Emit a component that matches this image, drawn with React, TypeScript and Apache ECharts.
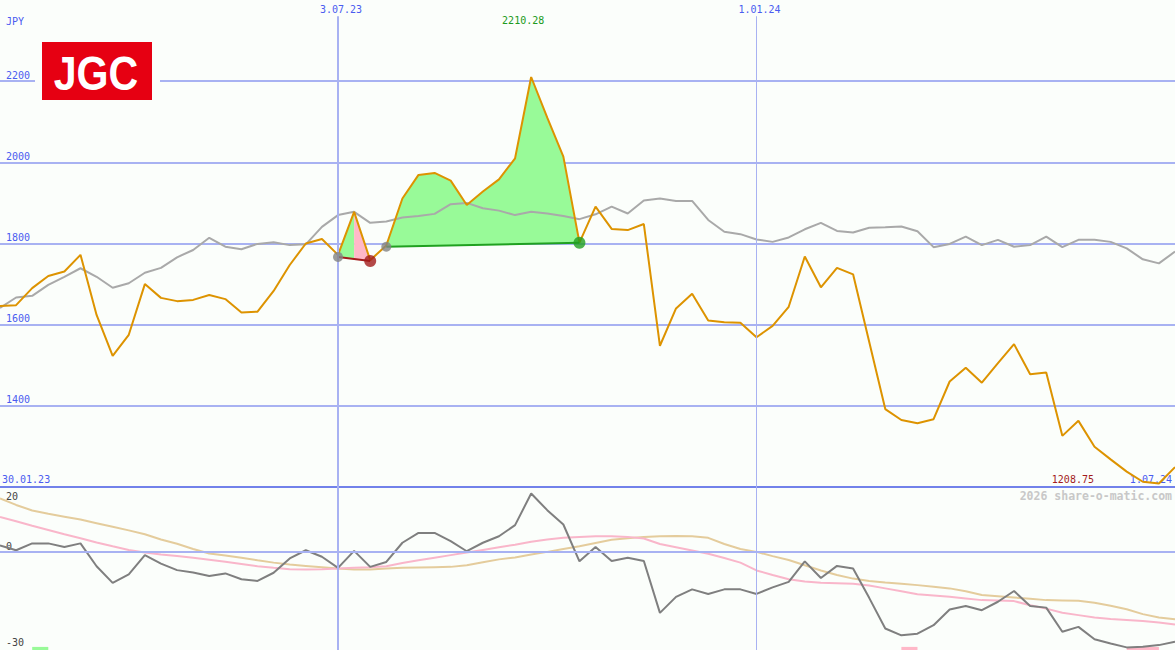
import React, { useEffect, useRef } from "react";
import * as echarts from "echarts";

// ---- data (weekly, index 0 = first week shown) ----
const price = [
  1646, 1648, 1690, 1720, 1731, 1772, 1624, 1523, 1575, 1700,
  1666, 1658, 1661, 1673, 1663, 1630, 1632, 1683, 1747, 1800,
  1811, 1772, 1878, 1759, 1795, 1911, 1969, 1974, 1955, 1895,
  1928, 1958, 2010, 2210.28, 2110, 2014, 1802, 1891, 1836, 1833,
  1848, 1548, 1640, 1676, 1610, 1606, 1605, 1569, 1597, 1644,
  1768, 1692, 1740, 1724, 1558, 1392, 1365, 1357, 1367, 1460,
  1494, 1457, 1505, 1552, 1478, 1482, 1326, 1363, 1299, 1268,
  1238, 1213, 1208.75, 1249,
];
const average = [
  1641, 1667, 1671, 1698, 1718, 1739, 1718, 1691, 1702, 1728,
  1740, 1766, 1784, 1814, 1792, 1786, 1799, 1803, 1796, 1798,
  1841, 1870, 1878, 1851, 1854, 1864, 1868, 1873, 1897, 1900,
  1887, 1881, 1870, 1878, 1874, 1868, 1860, 1872, 1891, 1874,
  1906, 1911, 1905, 1905, 1858, 1829, 1823, 1810, 1804, 1815,
  1835, 1851, 1831, 1827, 1839, 1840, 1842, 1830, 1791, 1799,
  1817, 1796, 1809, 1792, 1796, 1817, 1791, 1809, 1809, 1804,
  1788, 1761, 1751, 1780,
];
const momentum = [
  2.1, 0.6, 2.7, 2.7, 1.6, 2.7, -4.3, -9.4, -6.8, -0.9,
  -3.5, -5.5, -6.2, -7.3, -6.5, -8.3, -8.8, -6.3, -1.9, 0.6,
  -1.4, -4.8, 0.4, -4.5, -3.0, 2.9, 5.9, 5.9, 3.4, 0.3,
  2.9, 4.9, 8.3, 18.0, 12.9, 8.5, -2.8, 1.6, -2.7, -1.7,
  -2.7, -18.6, -13.7, -11.4, -12.8, -11.4, -11.4, -12.8, -10.8, -9.1,
  -2.8, -7.9, -4.2, -5.0, -14.0, -23.4, -25.5, -25.0, -22.4, -17.6,
  -16.5, -17.8, -15.2, -11.9, -16.5, -17.0, -24.4, -22.9, -26.7, -28.0,
  -29.2, -29.0, -28.5, -27.5,
];
const signalPink = [
  10.8, 9.5, 8.1, 6.8, 5.5, 4.3, 3.0, 1.8, 0.7, -0.1,
  -0.7, -1.2, -1.7, -2.3, -2.9, -3.6, -4.3, -4.8, -5.2, -5.3,
  -5.2, -5.0, -4.8, -4.6, -4.3, -3.3, -2.5, -1.7, -0.9, -0.1,
  0.7, 1.5, 2.3, 3.2, 3.9, 4.4, 4.7, 4.9, 4.9, 4.7,
  4.2, 2.5, 1.5, 0.5, -0.5, -1.8, -3.2, -5.6, -7.0, -8.3,
  -9.0, -9.4, -9.5, -9.7, -10.2, -11.1, -12.0, -12.9, -13.3, -13.7,
  -14.2, -14.7, -14.8, -15.0, -16.3, -17.3, -18.6, -19.3, -20.0, -20.5,
  -20.8, -21.1, -21.6, -22.2,
];
const signalTan = [
  16.5, 14.5, 12.8, 11.8, 10.9, 10.0, 8.9, 7.8, 6.7, 5.5,
  3.9, 2.6, 1.0, -0.4, -1.0, -1.7, -2.5, -3.2, -3.8, -4.2,
  -4.6, -5.0, -5.3, -5.3, -5.0, -4.8, -4.7, -4.6, -4.5, -4.0,
  -3.1, -2.2, -1.6, -0.7, 0.1, 1.0, 1.8, 2.8, 3.8, 4.3,
  4.7, 4.9, 5.0, 4.9, 4.4, 2.5, 1.0, 0.1, -1.2, -2.4,
  -4.0, -5.6, -7.0, -8.1, -8.8, -9.3, -9.7, -10.1, -10.6, -11.1,
  -12.0, -13.1, -13.5, -13.9, -14.3, -14.7, -14.8, -14.9, -15.5, -16.4,
  -17.5, -19.0, -20.0, -20.6,
];

const dateMarks = [
  { index: 21, label: "3.07.23", width: 2 },
  { index: 47, label: "1.01.24", width: 1 },
];
const startLabel = "30.01.23";
const endLabel = "1.07.24";
const currency = "JPY";

const trades = [
  { entry: 21, entryPrice: 1767, exit: 23, exitPrice: 1757, color: "#a31c1c" },
  { entry: 24, entryPrice: 1792, exit: 36, exitPrice: 1802, color: "#20a020" },
];
const fillSegments = [
  { from: 21, to: 22, color: "#98fa98" },
  { from: 22, to: 23, color: "#ffb8c8" },
  { from: 24, to: 36, color: "#98fa98" },
];
const bottomMarks = [
  { from: 2, to: 3, color: "#98fa98" },
  { from: 56, to: 57, color: "#ffb8c8" },
  { from: 70, to: 72, color: "#ffb8c8" },
];

const MAIN_MIN = 1200;
const MAIN_MAX = 2400;
const MAIN_STEP = 200;
const LOW_MIN = -30;
const LOW_MAX = 20;
const LAST = price.length - 1;

const BG = "#fbfefb";
const GRID = "#a8b2f2";
const AXIS = "#7282ea";
const BLUE_TXT = "#4a5cf0";
const MONO = '"DejaVu Sans Mono", monospace';

export default function App() {
  const ref = useRef<HTMLDivElement>(null);
  useEffect(() => {
    if (!ref.current) return;
    const chart = echarts.init(ref.current, undefined, { renderer: "svg" });
    const idx = (arr: number[]) => arr.map((v, i) => [i, v]);
    const maxIdx = price.indexOf(Math.max(...price));
    const minIdx = price.indexOf(Math.min(...price));

    const option: any = {
      animation: false,
      backgroundColor: BG,
      grid: [
        { left: 0, right: 0, top: 0, height: 487 },
        { left: 0, right: 0, top: 487, bottom: 0 },
      ],
      xAxis: [
        {
          type: "value", gridIndex: 0, min: 0, max: LAST,
          axisLine: { show: true, onZero: false, lineStyle: { color: AXIS, width: 2 } },
          axisTick: { show: false }, axisLabel: { show: false }, splitLine: { show: false },
        },
        {
          type: "value", gridIndex: 1, min: 0, max: LAST, show: false,
        },
      ],
      yAxis: [
        {
          type: "value", gridIndex: 0, min: MAIN_MIN, max: MAIN_MAX, interval: MAIN_STEP,
          axisLine: { show: false }, axisTick: { show: false },
          splitLine: { show: true, showMinLine: false, showMaxLine: false, lineStyle: { color: GRID, width: 2 } },
          axisLabel: {
            inside: true, margin: 6, verticalAlign: "bottom", padding: [0, 0, 1, 0],
            color: BLUE_TXT, fontFamily: MONO, fontSize: 10,
            showMinLabel: false, showMaxLabel: false,
            formatter: (v: number) => String(v),
          },
        },
        { type: "value", gridIndex: 1, min: LOW_MIN, max: LOW_MAX, show: false },
      ],
      series: [
        {
          type: "line", name: "avg", xAxisIndex: 0, yAxisIndex: 0,
          data: idx(average), symbol: "none",
          lineStyle: { color: "#a9a9a9", width: 2 },
          markLine: {
            silent: true, symbol: "none",
            data: dateMarks.map((d) => [
              {
                coord: [d.index, 2360],
                lineStyle: { color: GRID, width: d.width, type: "solid" },
                label: { show: true, position: "start", formatter: d.label, color: BLUE_TXT, fontFamily: MONO, fontSize: 10, distance: 2, padding: [0, 0, 0, 6] },
              },
              { coord: [d.index, MAIN_MIN] },
            ]),
          },
          z: 2,
        },
        {
          type: "custom", xAxisIndex: 0, yAxisIndex: 0, data: [[trades[0].entry, trades[0].entryPrice]],
          renderItem: (_p: any, api: any) => {
            const children = fillSegments.map((seg) => {
              const t = trades.find((tr) => seg.from >= tr.entry && seg.to <= tr.exit)!;
              const base = (i: number) => t.entryPrice + ((t.exitPrice - t.entryPrice) * (i - t.entry)) / (t.exit - t.entry);
              const pts: number[][] = [];
              for (let i = seg.from; i <= seg.to; i++) pts.push(api.coord([i, price[i]]));
              for (let i = seg.to; i >= seg.from; i--) pts.push(api.coord([i, base(i)]));
              return { type: "polygon", shape: { points: pts }, style: { fill: seg.color } };
            });
            return { type: "group", children };
          },
          z: 1,
        },
        {
          type: "line", name: "price", xAxisIndex: 0, yAxisIndex: 0,
          data: idx(price), symbol: "none",
          lineStyle: { color: "#dd9300", width: 2 },
          markPoint: {
            symbol: "circle", symbolSize: 0,
            data: [
              {
                coord: [maxIdx, 2349],
                label: { show: true, formatter: price[maxIdx].toFixed(2), color: "#209a20", fontFamily: MONO, fontSize: 10, position: "inside", offset: [-8, 0] },
              },
              {
                coord: [minIdx, 1219.5],
                label: { show: true, formatter: price[minIdx].toFixed(2), color: "#a31c1c", fontFamily: MONO, fontSize: 10, position: "inside", offset: [-86, 0] },
              },
            ],
          },
          z: 3,
        },
        ...trades.map((t) => ({
          type: "line", xAxisIndex: 0, yAxisIndex: 0, symbol: "none",
          data: [[t.entry, t.entryPrice], [t.exit, t.exitPrice]],
          lineStyle: { color: t.color, width: 2 }, z: 4,
        })),
        {
          type: "scatter", xAxisIndex: 0, yAxisIndex: 0, symbolSize: 10,
          data: trades.map((t) => [t.entry, t.entryPrice]),
          itemStyle: { color: "#838383" }, z: 5,
        },
        ...trades.map((t) => ({
          type: "scatter", xAxisIndex: 0, yAxisIndex: 0, symbolSize: 12,
          data: [[t.exit, t.exitPrice]],
          itemStyle: { color: t.color }, z: 5,
        })),
        {
          type: "line", name: "tan", xAxisIndex: 1, yAxisIndex: 1,
          data: idx(signalTan), symbol: "none",
          lineStyle: { color: "#e4cc9c", width: 2 },
          markLine: {
            silent: true, symbol: "none", label: { show: false },
            data: [
              { yAxis: 0, lineStyle: { color: GRID, width: 2, type: "solid" } },
              ...dateMarks.map((d) => [
                { coord: [d.index, LOW_MAX], lineStyle: { color: GRID, width: d.width, type: "solid" } },
                { coord: [d.index, LOW_MIN] },
              ]),
            ],
          },
          markArea: {
            silent: true,
            data: bottomMarks.map((m) => [
              { coord: [m.from, LOW_MIN], itemStyle: { color: m.color } },
              { coord: [m.to, LOW_MIN + 0.95] },
            ]),
          },
          z: 2,
        },
        {
          type: "line", name: "pink", xAxisIndex: 1, yAxisIndex: 1,
          data: idx(signalPink), symbol: "none",
          lineStyle: { color: "#f9b6ca", width: 2 }, z: 3,
        },
        {
          type: "line", name: "momentum", xAxisIndex: 1, yAxisIndex: 1,
          data: idx(momentum), symbol: "none",
          lineStyle: { color: "#7f7f7f", width: 2 }, z: 4,
        },
      ],
      graphic: [
        { type: "text", left: 6, top: 16, style: { text: currency, fill: BLUE_TXT, font: `10px ${MONO}` } },
        { type: "text", left: 2, top: 474, style: { text: startLabel, fill: BLUE_TXT, font: `10px ${MONO}` } },
        { type: "text", right: 3, top: 474, style: { text: endLabel, fill: BLUE_TXT, font: `10px ${MONO}` } },
        { type: "text", right: 3, top: 490, style: { text: "2026 share-o-matic.com", fill: "#c8c8c8", font: `bold 11.5px ${MONO}` } },
        { type: "text", left: 6, top: 491, style: { text: String(LOW_MAX), fill: "#444", font: `10px ${MONO}` } },
        { type: "text", left: 6, top: 541, style: { text: "0", fill: "#444", font: `10px ${MONO}` } },
        { type: "text", left: 6, top: 637, style: { text: String(LOW_MIN), fill: "#444", font: `10px ${MONO}` } },
        { type: "rect", z: 50, shape: { x: 35, y: 36, width: 125, height: 70 }, style: { fill: BG } },
        { type: "rect", z: 51, shape: { x: 42, y: 42, width: 110, height: 58 }, style: { fill: "#e60012" } },
        {
          type: "text", z: 52, x: 96, y: 73, scaleX: 0.84,
          style: {
            text: "JGC", fill: "#fff", align: "center", verticalAlign: "middle",
            font: 'bold 49px "Liberation Sans", Arial, sans-serif',
          },
        },
      ],
    };
    chart.setOption(option);
    return () => chart.dispose();
  }, []);
  return <div ref={ref} style={{ position: "absolute", left: 0, top: 0, width: 1175, height: 650 }} />;
}
